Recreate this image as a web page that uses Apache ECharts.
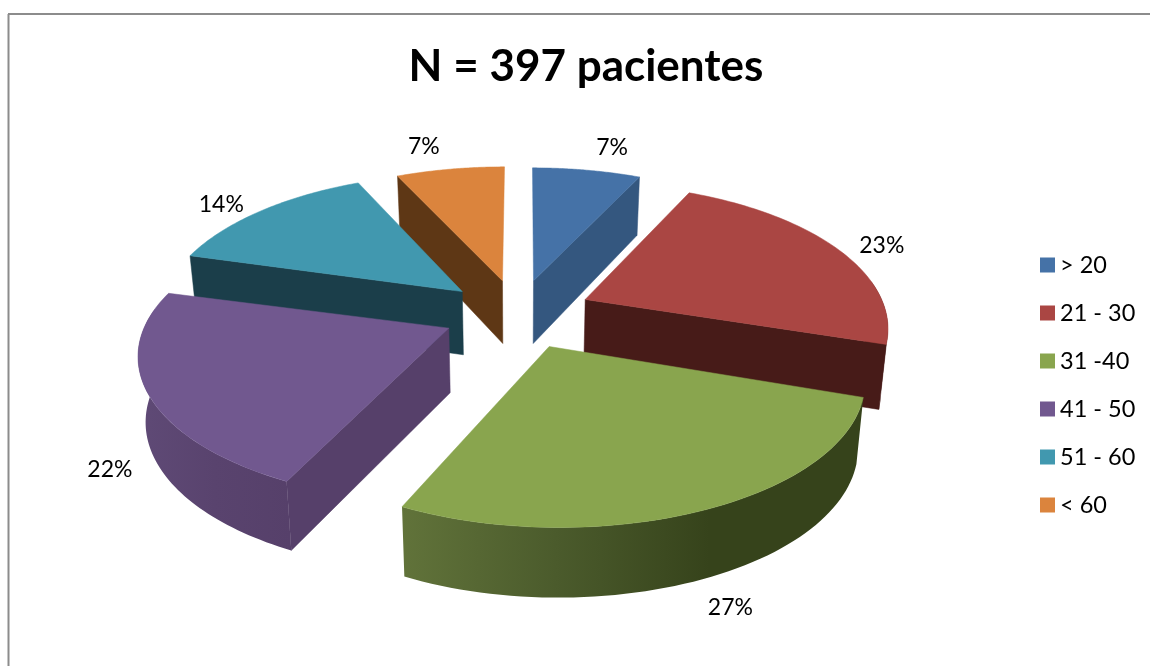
<!DOCTYPE html>
<html>
<head>
<meta charset="utf-8">
<style>html,body{margin:0;padding:0;background:#fff}#c{width:1150px;height:666px}</style>
<script src="https://cdn.jsdelivr.net/npm/echarts@6/dist/echarts.min.js"></script>
</head>
<body>
<div id="c"></div>
<script>
var titleText = 'N = 397 pacientes';
var categories = ['> 20', '21 - 30', '31 -40', '41 - 50', '51 - 60', '< 60'];
var values = [7, 23, 27, 22, 14, 7];
var topColors = ['#4572A7', '#AA4643', '#89A54E', '#71588F', '#4198AF', '#DB843D'];
var sideColors = ['#34577F', '#471B18', '#36431B', '#56406A', '#1B3E4A', '#5E3715'];
var rimStops = [
  ['#34577F', '#34577F'], ['#471B18', '#471B18'],
  ['#61733A', '#4B5B2C', '#36431B', '#36431B'],
  ['#5F4A76', '#59436E', '#56406A'],
  ['#1B3E4A', '#1B3E4A'], ['#5E3715', '#5E3715']
];
var paintOrder = [5, 0, 4, 1, 3, 2];
var labelNudge = [[25,-18],[19,4],[-46,10],[54,53],[-28,-2],[-25,-19]];
var rimShift = [[-1,2],[-3,-1],[10,5],[-5,-2],[3,-3],[2,1]];

var view = {cx: 518, cy: 313, rx: 299, ry: 139, k: 0.21, explode: 0.25, labelR: 1.2};
var labelView = {cx: 518, cy: 313, rx: 297, ry: 141.7, k: 0.254};
var total = values.reduce(function (a, b) { return a + b; }, 0);
function project(X, Y, v) {
  v = v || view;
  var s = 1 / (1 - v.k * Y);
  return [v.cx + X * v.rx * s, v.cy + Y * v.ry * s];
}
function drop(p, Y) {
  return [view.cx + (p[0] - view.cx) * 0.98, p[1] + 64 + 5 * Y];
}
function startFraction(i) {
  var sum = 0;
  for (var j = 0; j < i; j++) sum += values[j];
  return sum / total;
}
function renderSlice(params, api) {
  var i = params.seriesIndex;
  var value = api.value(0);
  var a0 = startFraction(i) * 2 * Math.PI;
  var a1 = a0 + value / total * 2 * Math.PI;
  var mid = (a0 + a1) / 2;
  var ex = view.explode * Math.sin(mid), ey = -view.explode * Math.cos(mid);
  var apex = project(ex, ey);
  function rimY(a) { return ey - Math.cos(a); }
  function P(a) {
    var q = project(Math.sin(a), -Math.cos(a));
    return [apex[0] + q[0] - view.cx + rimShift[i][0], apex[1] + q[1] - view.cy + rimShift[i][1]];
  }
  var apexB = drop(apex, ey);
  var children = [];
  function wall(a, normal) {
    if (-Math.cos(normal) <= 0.02) return;
    var p = P(a), pB = drop(p, rimY(a));
    children.push({type: 'polygon', shape: {points: [apex, p, pB, apexB]},
      style: {fill: sideColors[i], stroke: sideColors[i], lineWidth: 0.5}});
  }
  wall(a0, a0 - Math.PI / 2);
  wall(a1, a1 + Math.PI / 2);
  var lo = Math.max(a0, Math.PI * 0.46), hi = Math.min(a1, Math.PI * 1.54);
  var steps = 60, n;
  if (hi > lo) {
    var upper = [], lower = [];
    for (n = 0; n <= steps; n++) {
      var a = lo + (hi - lo) * n / steps;
      var pt = P(a);
      upper.push(pt);
      lower.unshift(drop(pt, rimY(a)));
    }
    var stops = rimStops[i].map(function (c, idx, arr) {
      return {offset: idx / (arr.length - 1), color: c};
    });
    children.push({type: 'polygon', shape: {points: upper.concat(lower)},
      style: {fill: {type: 'linear', x: 0, y: 0, x2: 1, y2: 0, colorStops: stops}}});
  }
  var top = [apex];
  for (n = 0; n <= steps; n++) top.push(P(a0 + (a1 - a0) * n / steps));
  children.push({type: 'polygon', shape: {points: top},
    style: {fill: topColors[i], stroke: topColors[i], lineWidth: 0.5}});
  var lab = project(ex + view.labelR * Math.sin(mid), ey - view.labelR * Math.cos(mid), labelView);
  children.push({type: 'text', style: {
    text: value + '%', x: lab[0] + labelNudge[i][0], y: lab[1] + labelNudge[i][1],
    fill: '#000', font: '23px Lato', align: 'center', verticalAlign: 'middle'}});
  return {type: 'group', children: children};
}
var chart = echarts.init(document.getElementById('c'), null, {renderer: 'canvas'});
chart.setOption({
  backgroundColor: '#fff',
  animation: false,
  title: {text: titleText, left: 581, top: 40, textAlign: 'center',
    textStyle: {fontFamily: 'Lato', fontWeight: 'bold', fontSize: 44, color: '#000'}},
  legend: {
    data: categories, orient: 'vertical', left: 1035, top: 248,
    icon: 'rect', itemWidth: 15, itemHeight: 15, itemGap: 24, selectedMode: false,
    textStyle: {fontFamily: 'Lato', fontSize: 23.5, color: '#000', lineHeight: 24}
  },
  graphic: [
    {type: 'line', shape: {x1: 8.5, y1: 14, x2: 8.5, y2: 666}, style: {stroke: '#8C8C8C', lineWidth: 2}},
    {type: 'line', shape: {x1: 8, y1: 14, x2: 1150, y2: 14}, style: {stroke: '#8C8C8C', lineWidth: 2}}
  ],
  series: categories.map(function (name, i) {
    return {
      type: 'custom', name: name, coordinateSystem: 'none',
      z: 2 + paintOrder.indexOf(i), silent: true,
      itemStyle: {color: topColors[i]},
      renderItem: renderSlice,
      data: [[values[i]]]
    };
  })
});
</script>
</body>
</html>
